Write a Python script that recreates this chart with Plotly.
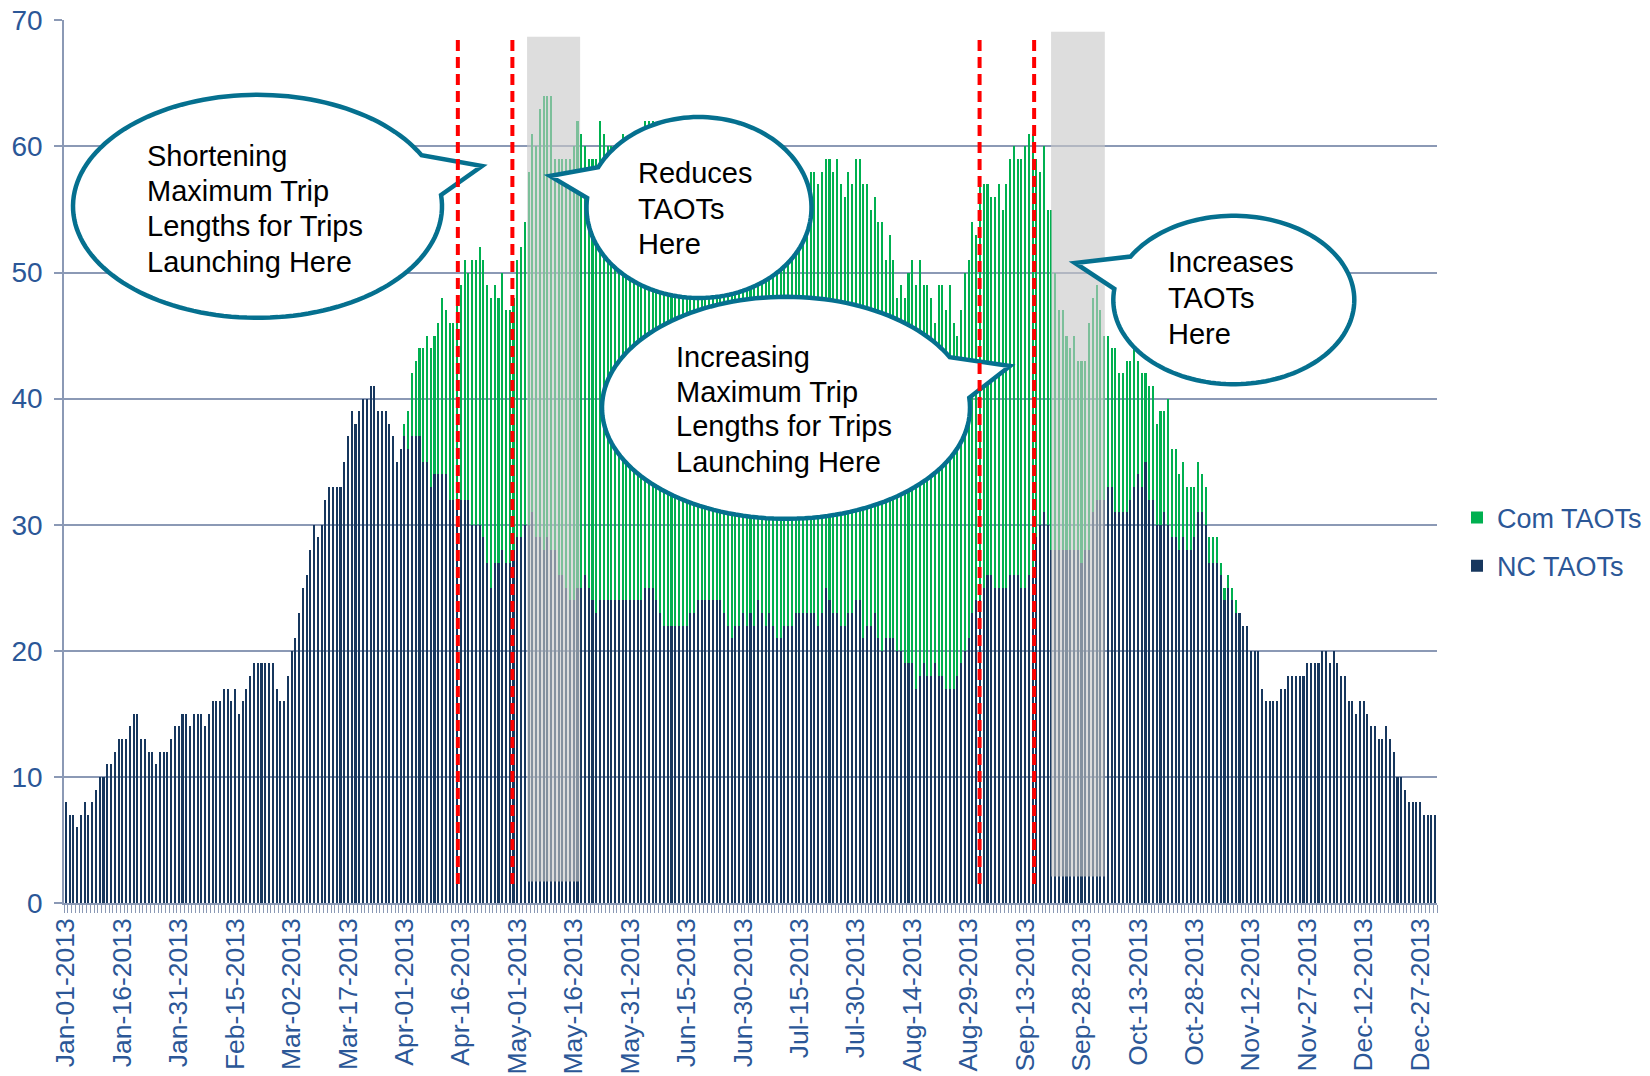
import math
import pandas as pd
import plotly.graph_objects as go

# ---------------- data ----------------
DATES = pd.date_range("2013-01-01", "2013-12-31", freq="D")

NC_TAOTS = [
    8, 7, 7, 6, 7, 8, 7, 8, 9, 10,
    10, 11, 11, 12, 13, 13, 13, 14, 15, 15,
    13, 13, 12, 12, 11, 12, 12, 12, 13, 14,
    14, 15, 15, 14, 15, 15, 15, 14, 15, 16,
    16, 16, 17, 17, 16, 17, 15, 16, 17, 18,
    19, 19, 19, 19, 19, 19, 17, 16, 16, 18,
    20, 21, 23, 25, 26, 28, 30, 29, 30, 32,
    33, 33, 33, 33, 35, 37, 39, 38, 39, 40,
    40, 41, 41, 39, 39, 39, 38, 37, 35, 36,
    37, 36, 37, 37, 37, 35, 35, 33, 34, 34,
    34, 34, 32, 32, 32, 32, 32, 32, 30, 30,
    30, 29, 27, 25, 27, 27, 28, 27, 27, 28,
    29, 29, 30, 30, 31, 29, 29, 28, 29, 28,
    28, 26, 26, 25, 24, 24, 25, 25, 26, 25,
    24, 23, 24, 24, 24, 24, 24, 24, 24, 24,
    24, 24, 24, 24, 25, 25, 25, 24, 23, 22,
    22, 22, 22, 22, 22, 22, 23, 23, 24, 24,
    24, 24, 24, 24, 24, 23, 22, 21, 22, 22,
    23, 22, 23, 22, 24, 23, 22, 23, 22, 21,
    21, 22, 22, 22, 23, 23, 23, 23, 23, 23,
    22, 23, 25, 24, 23, 23, 22, 22, 23, 23,
    24, 24, 21, 22, 22, 23, 21, 20, 21, 21,
    21, 20, 20, 19, 19, 19, 17, 18, 19, 18,
    18, 19, 18, 18, 17, 17, 17, 18, 19, 20,
    21, 23, 24, 24, 25, 26, 26, 25, 25, 25,
    25, 26, 26, 26, 25, 25, 26, 26, 29, 30,
    31, 30, 28, 28, 28, 28, 28, 28, 28, 28,
    27, 28, 28, 31, 32, 32, 32, 33, 33, 31,
    31, 31, 31, 32, 33, 34, 33, 35, 32, 32,
    30, 30, 31, 30, 29, 29, 28, 29, 28, 28,
    29, 31, 31, 30, 27, 27, 27, 26, 24, 25,
    24, 23, 23, 22, 22, 20, 20, 20, 17, 16,
    16, 16, 16, 17, 17, 18, 18, 18, 18, 18,
    19, 19, 19, 19, 20, 20, 19, 20, 19, 18,
    18, 16, 16, 15, 16, 16, 15, 14, 14, 13,
    13, 14, 13, 12, 10, 10, 9, 8, 8, 8,
    8, 7, 7, 7, 7,
]

COM_TAOTS = [0] * 90 + [
    1, 3, 5, 6, 7, 9, 10, 11, 11, 12,
    14, 13, 14, 14, 16, 17, 19, 18, 21, 21,
    22, 22, 22, 23, 22, 21, 22, 20, 20, 20,
    22, 23, 24, 28, 30, 31, 34, 36, 35, 36,
    31, 33, 33, 34, 35, 36, 37, 36, 34, 34,
    35, 36, 38, 37, 36, 36, 35, 36, 37, 36,
    35, 36, 37, 37, 37, 37, 37, 37, 37, 37,
    37, 36, 35, 35, 34, 35, 35, 35, 33, 32,
    31, 31, 32, 33, 32, 32, 33, 35, 35, 35,
    33, 34, 32, 34, 33, 35, 35, 33, 35, 37,
    37, 35, 34, 34, 34, 34, 33, 34, 35, 35,
    35, 35, 34, 35, 35, 36, 35, 34, 35, 34,
    35, 35, 36, 35, 33, 33, 33, 34, 30, 32,
    30, 28, 29, 29, 31, 32, 32, 33, 30, 31,
    30, 27, 31, 31, 30, 32, 29, 27, 28, 30,
    30, 31, 29, 33, 32, 31, 30, 31, 32, 30,
    32, 33, 34, 33, 34, 35, 35, 35, 30, 28,
    29, 25, 27, 22, 19, 19, 17, 16, 17, 15,
    16, 15, 18, 17, 17, 15, 13, 12, 11, 13,
    11, 11, 12, 11, 11, 9, 9, 7, 9, 9,
    8, 9, 8, 10, 7, 7, 6, 6, 5, 5,
    4, 4, 3, 3, 2, 2, 2, 1, 1, 1,
    1, 1,
] + [0] * 53

TICK_LABELS = [
    "Jan-01-2013", "Jan-16-2013", "Jan-31-2013", "Feb-15-2013", "Mar-02-2013",
    "Mar-17-2013", "Apr-01-2013", "Apr-16-2013", "May-01-2013", "May-16-2013",
    "May-31-2013", "Jun-15-2013", "Jun-30-2013", "Jul-15-2013", "Jul-30-2013",
    "Aug-14-2013", "Aug-29-2013", "Sep-13-2013", "Sep-28-2013", "Oct-13-2013",
    "Oct-28-2013", "Nov-12-2013", "Nov-27-2013", "Dec-12-2013", "Dec-27-2013",
]
TICK_DATES = DATES[::15]
Y_TICKS = [0, 10, 20, 30, 40, 50, 60, 70]

CALLOUTS = [
    ["Shortening", "Maximum Trip", "Lengths for Trips", "Launching Here"],
    ["Reduces", "TAOTs", "Here"],
    ["Increasing", "Maximum Trip", "Lengths for Trips", "Launching Here"],
    ["Increases", "TAOTs", "Here"],
]

# ---------------- styling / layout ----------------
FONT = "Liberation Sans, Arial, sans-serif"
AXIS_BLUE = "#2B5797"
GRID = "#8B99B5"
NAVY = "#17375E"
GREEN = "#00B050"
TEAL = "#05708F"

BODY = 8                      # browser default body margin
W_PX, H_PX = 1650 - BODY, 1076 - BODY
L_PAGE, T_PAGE = 64, 20       # plot-area top-left on the page
PW, PH = 1373, 883
L, T = L_PAGE - BODY, T_PAGE - BODY
R = W_PX - L - PW
B = H_PX - T - PH


def pxp(x):
    return (x - L_PAGE) / PW


def pyp(y):
    return 1 - (y - T_PAGE) / PH


def day(offset):
    return pd.Timestamp("2013-01-01") + pd.Timedelta(days=offset)


def bubble_path(cx, cy, rx, ry, a_pt, b_pt, tip, n=140):
    a1 = math.atan2((a_pt[1] - cy) / ry, (a_pt[0] - cx) / rx)
    a2 = math.atan2((b_pt[1] - cy) / ry, (b_pt[0] - cx) / rx)
    d = (a2 - a1) % (2 * math.pi)
    if d < math.pi:
        start, end = a2, a1 + 2 * math.pi
        if end < start:
            end += 2 * math.pi
    else:
        start, end = a1, a1 + d
    pts = []
    for i in range(n + 1):
        t = start + (end - start) * i / n
        pts.append((cx + rx * math.cos(t), cy + ry * math.sin(t)))
    pts.append(tip)
    return "M " + " L ".join(f"{pxp(x):.5f},{pyp(y):.5f}" for x, y in pts) + " Z"


fig = go.Figure()
fig.add_trace(go.Bar(x=DATES, y=NC_TAOTS, name="NC TAOTs", legendrank=2, legendgroup="nc",
                     marker=dict(color=NAVY, line=dict(width=0))))
fig.add_trace(go.Bar(x=DATES, y=COM_TAOTS, name="Com TAOTs", legendrank=1, legendgroup="com",
                     marker=dict(color=GREEN, line=dict(width=0))))

shapes = []
# grey highlight boxes
for x0, x1, y0, y1 in [(122.6, 136.7, 1.7, 68.7), (261.9, 276.2, 2.1, 69.1)]:
    shapes.append(dict(type="rect", xref="x", yref="y", x0=day(x0), x1=day(x1),
                       y0=y0, y1=y1, fillcolor="rgba(200,200,200,0.62)",
                       line=dict(width=0), layer="above"))

# speech bubbles
bubbles = [
    dict(c=(257.5, 206.3), r=(184.5, 111.5), a=(419, 156), b=(441, 195), tip=(482, 166)),
    dict(c=(699.0, 207.5), r=(112.5, 90.5), a=(598, 167), b=(587, 198), tip=(550, 176)),
    dict(c=(786.0, 407.8), r=(184.0, 111.0), a=(947, 358), b=(966, 398), tip=(1010, 366)),
    dict(c=(1233.8, 300.0), r=(120.5, 84.2), a=(1127, 255), b=(1115, 289), tip=(1075, 263)),
]
for bb in bubbles:
    shapes.append(dict(type="path", xref="paper", yref="paper",
                       path=bubble_path(bb["c"][0], bb["c"][1], bb["r"][0], bb["r"][1],
                                        bb["a"], bb["b"], bb["tip"]),
                       fillcolor="white", line=dict(color=TEAL, width=4.5), layer="above"))

# red dashed marker lines
for xo in [104.2, 118.7, 242.9, 257.4]:
    shapes.append(dict(type="line", xref="x", yref="y", x0=day(xo), x1=day(xo),
                       y0=1.5, y1=68.9,
                       line=dict(color="#FF0000", width=4, dash="11px,6px"),
                       layer="above"))

annotations = []
text_pos = [
    (145, [156, 191.5, 226.2, 262]),
    (636, [173, 209, 244]),
    (673.5, [357, 391.5, 426.2, 462]),
    (1166, [262, 298, 333.6]),
]
for lines, (x0, ys) in zip(CALLOUTS, text_pos):
    for txt, yy in zip(lines, ys):
        annotations.append(dict(text=txt, x=pxp(x0), y=pyp(yy), xref="paper", yref="paper",
                                xanchor="left", yanchor="middle", showarrow=False,
                                font=dict(family=FONT, size=29, color="black")))

fig.update_layout(
    width=W_PX, height=H_PX,
    margin=dict(l=L, r=R, t=T, b=B, autoexpand=False),
    template="none",
    paper_bgcolor="white", plot_bgcolor="white",
    barmode="stack", bargap=0.45,
    font=dict(family=FONT, size=27, color=AXIS_BLUE),
    shapes=shapes, annotations=annotations,
    legend=dict(x=pxp(1457), xanchor="left", y=pyp(542), yanchor="middle",
                traceorder="grouped", tracegroupgap=10,
                font=dict(family=FONT, size=27, color=AXIS_BLUE),
                bgcolor="rgba(0,0,0,0)", itemwidth=30),
    xaxis=dict(type="date", range=[day(-0.5), day(364.5)], tickvals=TICK_DATES,
               ticktext=TICK_LABELS, tickangle=-90, ticks="", showgrid=False,
               showline=True, linecolor=GRID, linewidth=1.5, zeroline=False,
               ticklabelstandoff=3, automargin=False,
               tickfont=dict(family=FONT, size=26.5, color=AXIS_BLUE),
               minor=dict(ticks="outside", ticklen=8, tickwidth=1.2, tickcolor=GRID,
                          dtick=86400000, tick0=day(-0.5), showgrid=False)),
    yaxis=dict(range=[0, 70.03], tickvals=Y_TICKS, ticks="outside",
               ticklen=8, tickwidth=1.5, tickcolor=GRID, showgrid=True, gridcolor=GRID,
               gridwidth=1.5, showline=True, linecolor=GRID, linewidth=1.5,
               zeroline=False, ticklabelstandoff=6, automargin=False,
               ticklabeloverflow="allow",
               tickfont=dict(family=FONT, size=28, color=AXIS_BLUE)),
)

fig.write_html("out.html")
